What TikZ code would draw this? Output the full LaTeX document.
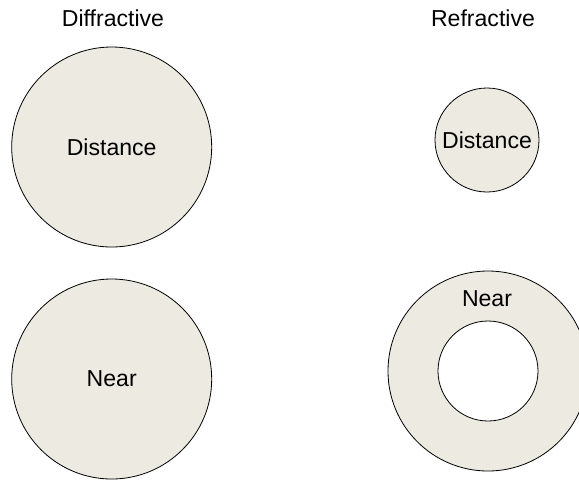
\documentclass[tikz,border=0pt]{standalone}
\usepackage{fontspec}
\setmainfont{Liberation Sans}
\definecolor{lensfill}{RGB}{236,234,225}
\begin{document}
\begin{tikzpicture}[x=0.75pt,y=-0.75pt,
  lens/.style={circle,draw=black,line width=0.6pt,fill=lensfill,inner sep=0pt},
  hole/.style={circle,draw=black,line width=0.6pt,fill=white,inner sep=0pt},
  lbl/.style={font=\fontsize{17.3}{20}\selectfont,inner sep=0pt,anchor=center}]
\useasboundingbox (0,0) rectangle (579,480);
\clip (0,0) rectangle (579,480);

% column headings
\node[lbl] (hdiff) at (113,18.5) {Diffractive};
\node[lbl] (hrefr) at (483,18.5) {Refractive};

% diffractive lens: two full zones
\node[lens,minimum size=150pt,lbl] (dfar) at (111.7,147) {Distance};
\node[lens,minimum size=150pt,lbl] (dnear) at (111.7,379) {Near};

% refractive lens: central distance zone and annular near zone
\node[lens,minimum size=78pt,lbl] (rfar) at (487,140) {Distance};
\node[lens,minimum size=150pt] (rring) at (488,371) {};
\node[hole,minimum size=75pt] (rhole) at (488,371) {};
\node[lbl] (rnear) at (487,299) {Near};
\end{tikzpicture}
\end{document}
